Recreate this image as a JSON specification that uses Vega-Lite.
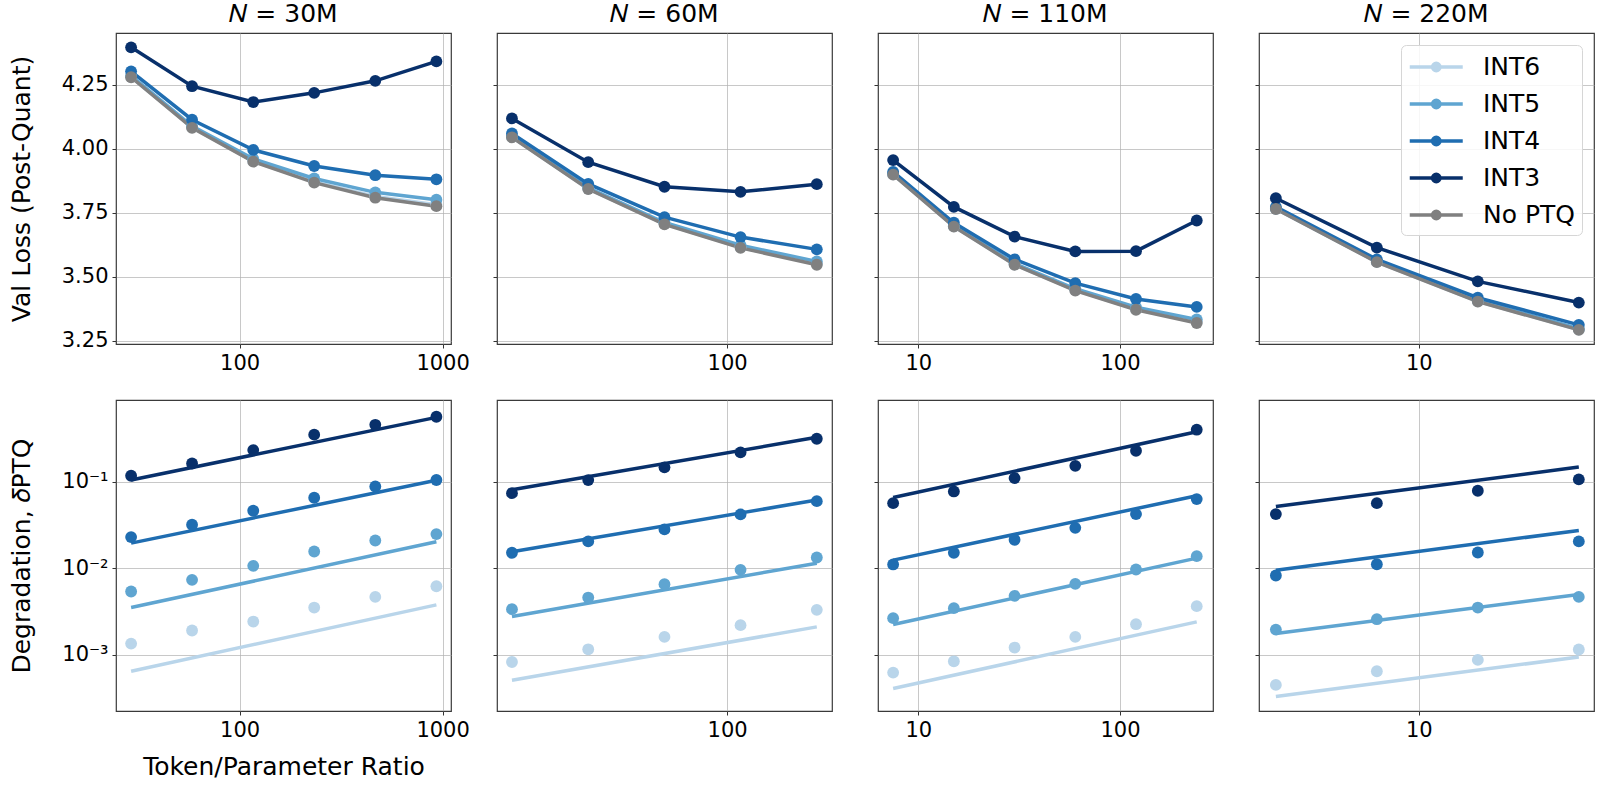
{
  "$schema": "https://vega.github.io/schema/vega-lite/v6.json",
  "padding": {"left": 8, "top": 1, "right": 5, "bottom": 5},
  "background": "white",
  "config": {
    "font": "DejaVu Sans",
    "view": {"stroke": "#3a3a3a", "strokeWidth": 1.2},
    "axis": {
      "labelFontSize": 21, "titleFontSize": 25, "titleFontWeight": "normal",
      "labelColor": "#000", "titleColor": "#000",
      "gridColor": "#b0b0b0", "gridOpacity": 0.7, "gridWidth": 1,
      "domain": false, "tickColor": "#333", "tickSize": 4, "labelPadding": 4
    },
    "title": {"fontSize": 25, "fontWeight": "normal", "color": "#000", "offset": 6},
    "legend": {
      "labelFontSize": 25, "labelColor": "#000", "padding": 7,
      "strokeColor": "#d6d6d6", "fillColor": "rgba(255,255,255,0.85)", "cornerRadius": 5
    }
  },
  "datasets": {
    "loss": [
      {"N": "30M", "method": "INT6", "ratio": 29.2, "loss": 4.281},
      {"N": "30M", "method": "INT6", "ratio": 58.3, "loss": 4.084},
      {"N": "30M", "method": "INT6", "ratio": 116.7, "loss": 3.952},
      {"N": "30M", "method": "INT6", "ratio": 233, "loss": 3.871},
      {"N": "30M", "method": "INT6", "ratio": 466, "loss": 3.814},
      {"N": "30M", "method": "INT6", "ratio": 932, "loss": 3.782},
      {"N": "30M", "method": "INT5", "ratio": 29.2, "loss": 4.285},
      {"N": "30M", "method": "INT5", "ratio": 58.3, "loss": 4.089},
      {"N": "30M", "method": "INT5", "ratio": 116.7, "loss": 3.961},
      {"N": "30M", "method": "INT5", "ratio": 233, "loss": 3.884},
      {"N": "30M", "method": "INT5", "ratio": 466, "loss": 3.830},
      {"N": "30M", "method": "INT5", "ratio": 932, "loss": 3.801},
      {"N": "30M", "method": "INT4", "ratio": 29.2, "loss": 4.303},
      {"N": "30M", "method": "INT4", "ratio": 58.3, "loss": 4.114},
      {"N": "30M", "method": "INT4", "ratio": 116.7, "loss": 3.996},
      {"N": "30M", "method": "INT4", "ratio": 233, "loss": 3.933},
      {"N": "30M", "method": "INT4", "ratio": 466, "loss": 3.897},
      {"N": "30M", "method": "INT4", "ratio": 932, "loss": 3.881},
      {"N": "30M", "method": "INT3", "ratio": 29.2, "loss": 4.397},
      {"N": "30M", "method": "INT3", "ratio": 58.3, "loss": 4.245},
      {"N": "30M", "method": "INT3", "ratio": 116.7, "loss": 4.183},
      {"N": "30M", "method": "INT3", "ratio": 233, "loss": 4.219},
      {"N": "30M", "method": "INT3", "ratio": 466, "loss": 4.266},
      {"N": "30M", "method": "INT3", "ratio": 932, "loss": 4.342},
      {"N": "30M", "method": "No PTQ", "ratio": 29.2, "loss": 4.280},
      {"N": "30M", "method": "No PTQ", "ratio": 58.3, "loss": 4.082},
      {"N": "30M", "method": "No PTQ", "ratio": 116.7, "loss": 3.950},
      {"N": "30M", "method": "No PTQ", "ratio": 233, "loss": 3.868},
      {"N": "30M", "method": "No PTQ", "ratio": 466, "loss": 3.809},
      {"N": "30M", "method": "No PTQ", "ratio": 932, "loss": 3.776},

      {"N": "60M", "method": "INT6", "ratio": 14.15, "loss": 4.046},
      {"N": "60M", "method": "INT6", "ratio": 28.3, "loss": 3.844},
      {"N": "60M", "method": "INT6", "ratio": 56.6, "loss": 3.707},
      {"N": "60M", "method": "INT6", "ratio": 113, "loss": 3.615},
      {"N": "60M", "method": "INT6", "ratio": 226, "loss": 3.550},
      {"N": "60M", "method": "INT5", "ratio": 14.15, "loss": 4.048},
      {"N": "60M", "method": "INT5", "ratio": 28.3, "loss": 3.848},
      {"N": "60M", "method": "INT5", "ratio": 56.6, "loss": 3.712},
      {"N": "60M", "method": "INT5", "ratio": 113, "loss": 3.623},
      {"N": "60M", "method": "INT5", "ratio": 226, "loss": 3.560},
      {"N": "60M", "method": "INT4", "ratio": 14.15, "loss": 4.060},
      {"N": "60M", "method": "INT4", "ratio": 28.3, "loss": 3.863},
      {"N": "60M", "method": "INT4", "ratio": 56.6, "loss": 3.733},
      {"N": "60M", "method": "INT4", "ratio": 113, "loss": 3.655},
      {"N": "60M", "method": "INT4", "ratio": 226, "loss": 3.607},
      {"N": "60M", "method": "INT3", "ratio": 14.15, "loss": 4.119},
      {"N": "60M", "method": "INT3", "ratio": 28.3, "loss": 3.948},
      {"N": "60M", "method": "INT3", "ratio": 56.6, "loss": 3.852},
      {"N": "60M", "method": "INT3", "ratio": 113, "loss": 3.832},
      {"N": "60M", "method": "INT3", "ratio": 226, "loss": 3.862},
      {"N": "60M", "method": "No PTQ", "ratio": 14.15, "loss": 4.045},
      {"N": "60M", "method": "No PTQ", "ratio": 28.3, "loss": 3.843},
      {"N": "60M", "method": "No PTQ", "ratio": 56.6, "loss": 3.705},
      {"N": "60M", "method": "No PTQ", "ratio": 113, "loss": 3.613},
      {"N": "60M", "method": "No PTQ", "ratio": 226, "loss": 3.547},

      {"N": "110M", "method": "INT6", "ratio": 7.5, "loss": 3.900},
      {"N": "110M", "method": "INT6", "ratio": 15, "loss": 3.697},
      {"N": "110M", "method": "INT6", "ratio": 30, "loss": 3.548},
      {"N": "110M", "method": "INT6", "ratio": 60, "loss": 3.448},
      {"N": "110M", "method": "INT6", "ratio": 120, "loss": 3.373},
      {"N": "110M", "method": "INT6", "ratio": 240, "loss": 3.323},
      {"N": "110M", "method": "INT5", "ratio": 7.5, "loss": 3.902},
      {"N": "110M", "method": "INT5", "ratio": 15, "loss": 3.699},
      {"N": "110M", "method": "INT5", "ratio": 30, "loss": 3.552},
      {"N": "110M", "method": "INT5", "ratio": 60, "loss": 3.453},
      {"N": "110M", "method": "INT5", "ratio": 120, "loss": 3.381},
      {"N": "110M", "method": "INT5", "ratio": 240, "loss": 3.333},
      {"N": "110M", "method": "INT4", "ratio": 7.5, "loss": 3.910},
      {"N": "110M", "method": "INT4", "ratio": 15, "loss": 3.711},
      {"N": "110M", "method": "INT4", "ratio": 30, "loss": 3.568},
      {"N": "110M", "method": "INT4", "ratio": 60, "loss": 3.475},
      {"N": "110M", "method": "INT4", "ratio": 120, "loss": 3.413},
      {"N": "110M", "method": "INT4", "ratio": 240, "loss": 3.382},
      {"N": "110M", "method": "INT3", "ratio": 7.5, "loss": 3.956},
      {"N": "110M", "method": "INT3", "ratio": 15, "loss": 3.773},
      {"N": "110M", "method": "INT3", "ratio": 30, "loss": 3.657},
      {"N": "110M", "method": "INT3", "ratio": 60, "loss": 3.599},
      {"N": "110M", "method": "INT3", "ratio": 120, "loss": 3.600},
      {"N": "110M", "method": "INT3", "ratio": 240, "loss": 3.720},
      {"N": "110M", "method": "No PTQ", "ratio": 7.5, "loss": 3.899},
      {"N": "110M", "method": "No PTQ", "ratio": 15, "loss": 3.696},
      {"N": "110M", "method": "No PTQ", "ratio": 30, "loss": 3.547},
      {"N": "110M", "method": "No PTQ", "ratio": 60, "loss": 3.446},
      {"N": "110M", "method": "No PTQ", "ratio": 120, "loss": 3.371},
      {"N": "110M", "method": "No PTQ", "ratio": 240, "loss": 3.319},

      {"N": "220M", "method": "INT6", "ratio": 3.75, "loss": 3.765},
      {"N": "220M", "method": "INT6", "ratio": 7.5, "loss": 3.558},
      {"N": "220M", "method": "INT6", "ratio": 15, "loss": 3.404},
      {"N": "220M", "method": "INT6", "ratio": 30, "loss": 3.293},
      {"N": "220M", "method": "INT5", "ratio": 3.75, "loss": 3.767},
      {"N": "220M", "method": "INT5", "ratio": 7.5, "loss": 3.560},
      {"N": "220M", "method": "INT5", "ratio": 15, "loss": 3.407},
      {"N": "220M", "method": "INT5", "ratio": 30, "loss": 3.297},
      {"N": "220M", "method": "INT4", "ratio": 3.75, "loss": 3.773},
      {"N": "220M", "method": "INT4", "ratio": 7.5, "loss": 3.568},
      {"N": "220M", "method": "INT4", "ratio": 15, "loss": 3.418},
      {"N": "220M", "method": "INT4", "ratio": 30, "loss": 3.312},
      {"N": "220M", "method": "INT3", "ratio": 3.75, "loss": 3.807},
      {"N": "220M", "method": "INT3", "ratio": 7.5, "loss": 3.614},
      {"N": "220M", "method": "INT3", "ratio": 15, "loss": 3.482},
      {"N": "220M", "method": "INT3", "ratio": 30, "loss": 3.399},
      {"N": "220M", "method": "No PTQ", "ratio": 3.75, "loss": 3.765},
      {"N": "220M", "method": "No PTQ", "ratio": 7.5, "loss": 3.557},
      {"N": "220M", "method": "No PTQ", "ratio": 15, "loss": 3.403},
      {"N": "220M", "method": "No PTQ", "ratio": 30, "loss": 3.292}
    ],
    "deg": [
      {"N": "30M", "method": "INT6", "ratio": 29.2, "delta": 0.00134},
      {"N": "30M", "method": "INT6", "ratio": 58.3, "delta": 0.0019},
      {"N": "30M", "method": "INT6", "ratio": 116.7, "delta": 0.00241},
      {"N": "30M", "method": "INT6", "ratio": 233, "delta": 0.0035},
      {"N": "30M", "method": "INT6", "ratio": 466, "delta": 0.00465},
      {"N": "30M", "method": "INT6", "ratio": 932, "delta": 0.00618},
      {"N": "30M", "method": "INT5", "ratio": 29.2, "delta": 0.00537},
      {"N": "30M", "method": "INT5", "ratio": 58.3, "delta": 0.00733},
      {"N": "30M", "method": "INT5", "ratio": 116.7, "delta": 0.01064},
      {"N": "30M", "method": "INT5", "ratio": 233, "delta": 0.0156},
      {"N": "30M", "method": "INT5", "ratio": 466, "delta": 0.0209},
      {"N": "30M", "method": "INT5", "ratio": 932, "delta": 0.0248},
      {"N": "30M", "method": "INT4", "ratio": 29.2, "delta": 0.0229},
      {"N": "30M", "method": "INT4", "ratio": 58.3, "delta": 0.0318},
      {"N": "30M", "method": "INT4", "ratio": 116.7, "delta": 0.0462},
      {"N": "30M", "method": "INT4", "ratio": 233, "delta": 0.0653},
      {"N": "30M", "method": "INT4", "ratio": 466, "delta": 0.0883},
      {"N": "30M", "method": "INT4", "ratio": 932, "delta": 0.105},
      {"N": "30M", "method": "INT3", "ratio": 29.2, "delta": 0.1174},
      {"N": "30M", "method": "INT3", "ratio": 58.3, "delta": 0.163},
      {"N": "30M", "method": "INT3", "ratio": 116.7, "delta": 0.233},
      {"N": "30M", "method": "INT3", "ratio": 233, "delta": 0.351},
      {"N": "30M", "method": "INT3", "ratio": 466, "delta": 0.457},
      {"N": "30M", "method": "INT3", "ratio": 932, "delta": 0.566},

      {"N": "60M", "method": "INT6", "ratio": 14.15, "delta": 0.00082},
      {"N": "60M", "method": "INT6", "ratio": 28.3, "delta": 0.00115},
      {"N": "60M", "method": "INT6", "ratio": 56.6, "delta": 0.0016},
      {"N": "60M", "method": "INT6", "ratio": 113, "delta": 0.00219},
      {"N": "60M", "method": "INT6", "ratio": 226, "delta": 0.00329},
      {"N": "60M", "method": "INT5", "ratio": 14.15, "delta": 0.00335},
      {"N": "60M", "method": "INT5", "ratio": 28.3, "delta": 0.00457},
      {"N": "60M", "method": "INT5", "ratio": 56.6, "delta": 0.00653},
      {"N": "60M", "method": "INT5", "ratio": 113, "delta": 0.00956},
      {"N": "60M", "method": "INT5", "ratio": 226, "delta": 0.0133},
      {"N": "60M", "method": "INT4", "ratio": 14.15, "delta": 0.01507},
      {"N": "60M", "method": "INT4", "ratio": 28.3, "delta": 0.0204},
      {"N": "60M", "method": "INT4", "ratio": 56.6, "delta": 0.0281},
      {"N": "60M", "method": "INT4", "ratio": 113, "delta": 0.0419},
      {"N": "60M", "method": "INT4", "ratio": 226, "delta": 0.0597},
      {"N": "60M", "method": "INT3", "ratio": 14.15, "delta": 0.0739},
      {"N": "60M", "method": "INT3", "ratio": 28.3, "delta": 0.1047},
      {"N": "60M", "method": "INT3", "ratio": 56.6, "delta": 0.147},
      {"N": "60M", "method": "INT3", "ratio": 113, "delta": 0.219},
      {"N": "60M", "method": "INT3", "ratio": 226, "delta": 0.315},

      {"N": "110M", "method": "INT6", "ratio": 7.5, "delta": 0.000618},
      {"N": "110M", "method": "INT6", "ratio": 15, "delta": 0.000835},
      {"N": "110M", "method": "INT6", "ratio": 30, "delta": 0.001205},
      {"N": "110M", "method": "INT6", "ratio": 60, "delta": 0.0016},
      {"N": "110M", "method": "INT6", "ratio": 120, "delta": 0.002245},
      {"N": "110M", "method": "INT6", "ratio": 240, "delta": 0.00363},
      {"N": "110M", "method": "INT5", "ratio": 7.5, "delta": 0.002636},
      {"N": "110M", "method": "INT5", "ratio": 15, "delta": 0.003443},
      {"N": "110M", "method": "INT5", "ratio": 30, "delta": 0.00478},
      {"N": "110M", "method": "INT5", "ratio": 60, "delta": 0.00658},
      {"N": "110M", "method": "INT5", "ratio": 120, "delta": 0.00966},
      {"N": "110M", "method": "INT5", "ratio": 240, "delta": 0.01377},
      {"N": "110M", "method": "INT4", "ratio": 7.5, "delta": 0.01104},
      {"N": "110M", "method": "INT4", "ratio": 15, "delta": 0.01507},
      {"N": "110M", "method": "INT4", "ratio": 30, "delta": 0.0213},
      {"N": "110M", "method": "INT4", "ratio": 60, "delta": 0.0293},
      {"N": "110M", "method": "INT4", "ratio": 120, "delta": 0.0423},
      {"N": "110M", "method": "INT4", "ratio": 240, "delta": 0.0631},
      {"N": "110M", "method": "INT3", "ratio": 7.5, "delta": 0.0566},
      {"N": "110M", "method": "INT3", "ratio": 15, "delta": 0.0773},
      {"N": "110M", "method": "INT3", "ratio": 30, "delta": 0.1104},
      {"N": "110M", "method": "INT3", "ratio": 60, "delta": 0.153},
      {"N": "110M", "method": "INT3", "ratio": 120, "delta": 0.2285},
      {"N": "110M", "method": "INT3", "ratio": 240, "delta": 0.401},

      {"N": "220M", "method": "INT6", "ratio": 3.75, "delta": 0.000445},
      {"N": "220M", "method": "INT6", "ratio": 7.5, "delta": 0.000641},
      {"N": "220M", "method": "INT6", "ratio": 15, "delta": 0.000867},
      {"N": "220M", "method": "INT6", "ratio": 30, "delta": 0.001143},
      {"N": "220M", "method": "INT5", "ratio": 3.75, "delta": 0.001945},
      {"N": "220M", "method": "INT5", "ratio": 7.5, "delta": 0.002565},
      {"N": "220M", "method": "INT5", "ratio": 15, "delta": 0.0035},
      {"N": "220M", "method": "INT5", "ratio": 30, "delta": 0.00465},
      {"N": "220M", "method": "INT4", "ratio": 3.75, "delta": 0.00822},
      {"N": "220M", "method": "INT4", "ratio": 7.5, "delta": 0.01111},
      {"N": "220M", "method": "INT4", "ratio": 15, "delta": 0.0152},
      {"N": "220M", "method": "INT4", "ratio": 30, "delta": 0.0204},
      {"N": "220M", "method": "INT3", "ratio": 3.75, "delta": 0.0423},
      {"N": "220M", "method": "INT3", "ratio": 7.5, "delta": 0.0566},
      {"N": "220M", "method": "INT3", "ratio": 15, "delta": 0.0787},
      {"N": "220M", "method": "INT3", "ratio": 30, "delta": 0.1066}
    ],
    "fit": [
      {"N": "30M", "method": "INT6", "ratio": 29.2, "delta": 0.000641},
      {"N": "30M", "method": "INT6", "ratio": 932, "delta": 0.00376},
      {"N": "30M", "method": "INT5", "ratio": 29.2, "delta": 0.0035},
      {"N": "30M", "method": "INT5", "ratio": 932, "delta": 0.0202},
      {"N": "30M", "method": "INT4", "ratio": 29.2, "delta": 0.0195},
      {"N": "30M", "method": "INT4", "ratio": 932, "delta": 0.104},
      {"N": "30M", "method": "INT3", "ratio": 29.2, "delta": 0.105},
      {"N": "30M", "method": "INT3", "ratio": 932, "delta": 0.557},
      {"N": "60M", "method": "INT6", "ratio": 14.15, "delta": 0.000503},
      {"N": "60M", "method": "INT6", "ratio": 226, "delta": 0.00209},
      {"N": "60M", "method": "INT5", "ratio": 14.15, "delta": 0.00275},
      {"N": "60M", "method": "INT5", "ratio": 226, "delta": 0.01142},
      {"N": "60M", "method": "INT4", "ratio": 14.15, "delta": 0.01546},
      {"N": "60M", "method": "INT4", "ratio": 226, "delta": 0.0614},
      {"N": "60M", "method": "INT3", "ratio": 14.15, "delta": 0.0808},
      {"N": "60M", "method": "INT3", "ratio": 226, "delta": 0.327},
      {"N": "110M", "method": "INT6", "ratio": 7.5, "delta": 0.000404},
      {"N": "110M", "method": "INT6", "ratio": 240, "delta": 0.00239},
      {"N": "110M", "method": "INT5", "ratio": 7.5, "delta": 0.00223},
      {"N": "110M", "method": "INT5", "ratio": 240, "delta": 0.01306},
      {"N": "110M", "method": "INT4", "ratio": 7.5, "delta": 0.01239},
      {"N": "110M", "method": "INT4", "ratio": 240, "delta": 0.0689},
      {"N": "110M", "method": "INT3", "ratio": 7.5, "delta": 0.0659},
      {"N": "110M", "method": "INT3", "ratio": 240, "delta": 0.379},
      {"N": "220M", "method": "INT6", "ratio": 3.75, "delta": 0.000326},
      {"N": "220M", "method": "INT6", "ratio": 30, "delta": 0.000938},
      {"N": "220M", "method": "INT5", "ratio": 3.75, "delta": 0.00175},
      {"N": "220M", "method": "INT5", "ratio": 30, "delta": 0.00495},
      {"N": "220M", "method": "INT4", "ratio": 3.75, "delta": 0.00948},
      {"N": "220M", "method": "INT4", "ratio": 30, "delta": 0.02735},
      {"N": "220M", "method": "INT3", "ratio": 3.75, "delta": 0.0519},
      {"N": "220M", "method": "INT3", "ratio": 30, "delta": 0.148}
    ]
  },
  "columns": 4,
  "bounds": "flush",
  "spacing": {"row": 56, "column": 46},
  "resolve": {"legend": {"color": "independent"}},
  "concat": [
    {
      "width": 335, "height": 311,
      "title": "𝑁 = 30M",
      "data": {"name": "loss"},
      "transform": [{"filter": "datum.N === '30M'"}],
      "encoding": {
        "x": {"field": "ratio", "type": "quantitative", "scale": {"type": "log", "domain": [24.6, 1100], "nice": false}, "axis": {"values": [100, 1000], "format": "d", "title": null}},
        "y": {"field": "loss", "type": "quantitative", "scale": {"domain": [3.237, 4.453], "nice": false, "zero": false}, "axis": {"values": [3.25, 3.5, 3.75, 4, 4.25], "format": ".2f", "title": "Val Loss (Post-Quant)", "titlePadding": 27}},
        "color": {"field": "method", "type": "nominal", "scale": {"domain": ["INT6", "INT5", "INT4", "INT3", "No PTQ"], "range": ["#b9d5ea", "#5fa5d1", "#1f6db1", "#08306b", "#808080"]}, "legend": null}
      },
      "layer": [
        {"mark": {"type": "line", "strokeWidth": 3.5}, "encoding": {}},
        {"mark": {"type": "point", "filled": true, "size": 140, "opacity": 1}, "encoding": {}}
      ]
    },
    {
      "width": 335, "height": 311,
      "title": "𝑁 = 60M",
      "data": {"name": "loss"},
      "transform": [{"filter": "datum.N === '60M'"}],
      "encoding": {
        "x": {"field": "ratio", "type": "quantitative", "scale": {"type": "log", "domain": [12.35, 259.5], "nice": false}, "axis": {"values": [100], "format": "d", "title": null}},
        "y": {"field": "loss", "type": "quantitative", "scale": {"domain": [3.237, 4.453], "nice": false, "zero": false}, "axis": {"values": [3.25, 3.5, 3.75, 4, 4.25], "labels": false, "title": null}},
        "color": {"field": "method", "type": "nominal", "legend": null}
      },
      "layer": [
        {"mark": {"type": "line", "strokeWidth": 3.5}, "encoding": {}},
        {"mark": {"type": "point", "filled": true, "size": 140, "opacity": 1}, "encoding": {}}
      ]
    },
    {
      "width": 335, "height": 311,
      "title": "𝑁 = 110M",
      "data": {"name": "loss"},
      "transform": [{"filter": "datum.N === '110M'"}],
      "encoding": {
        "x": {"field": "ratio", "type": "quantitative", "scale": {"type": "log", "domain": [6.31, 289], "nice": false}, "axis": {"values": [10, 100], "format": "d", "title": null}},
        "y": {"field": "loss", "type": "quantitative", "scale": {"domain": [3.237, 4.453], "nice": false, "zero": false}, "axis": {"values": [3.25, 3.5, 3.75, 4, 4.25], "labels": false, "title": null}},
        "color": {"field": "method", "type": "nominal", "legend": null}
      },
      "layer": [
        {"mark": {"type": "line", "strokeWidth": 3.5}, "encoding": {}},
        {"mark": {"type": "point", "filled": true, "size": 140, "opacity": 1}, "encoding": {}}
      ]
    },
    {
      "width": 335, "height": 311,
      "title": "𝑁 = 220M",
      "data": {"name": "loss"},
      "transform": [{"filter": "datum.N === '220M'"}],
      "encoding": {
        "x": {"field": "ratio", "type": "quantitative", "scale": {"type": "log", "domain": [3.34, 33.3], "nice": false}, "axis": {"values": [10], "format": "d", "title": null}},
        "y": {"field": "loss", "type": "quantitative", "scale": {"domain": [3.237, 4.453], "nice": false, "zero": false}, "axis": {"values": [3.25, 3.5, 3.75, 4, 4.25], "labels": false, "title": null}},
        "color": {
          "field": "method", "type": "nominal",
          "legend": {
            "title": null, "orient": "top-right", "offset": 12,
            "symbolType": "M-1,0L3,0M0.72,0A0.28,0.28,0,1,1,1.28,0A0.28,0.28,0,1,1,0.72,0Z",
            "symbolSize": 702, "symbolStrokeWidth": 3.5, "labelOffset": 45, "rowPadding": 9,
            "encode": {"symbols": {"update": {"fill": {"scale": "color", "field": "value"}, "stroke": {"scale": "color", "field": "value"}, "strokeWidth": {"value": 3.5}, "opacity": {"value": 1}}}}
          }
        }
      },
      "layer": [
        {"mark": {"type": "line", "strokeWidth": 3.5}, "encoding": {}},
        {"mark": {"type": "point", "filled": true, "size": 140, "opacity": 1}, "encoding": {}}
      ]
    },
    {
      "width": 335, "height": 311,
      "encoding": {
        "x": {"field": "ratio", "type": "quantitative", "scale": {"type": "log", "domain": [24.6, 1100], "nice": false}, "axis": {"values": [100, 1000], "format": "d", "title": "Token/Parameter Ratio", "titlePadding": 14}},
        "y": {"field": "delta", "type": "quantitative", "scale": {"type": "log", "domain": [0.000222, 0.885], "nice": false}, "axis": {"values": [0.001, 0.01, 0.1], "labelExpr": "datum.value < 0.005 ? '10⁻³' : datum.value < 0.05 ? '10⁻²' : '10⁻¹'", "title": "Degradation, 𝛿PTQ", "titlePadding": 27}},
        "color": {"field": "method", "type": "nominal", "legend": null}
      },
      "layer": [
        {"data": {"name": "fit"}, "transform": [{"filter": "datum.N === '30M'"}], "mark": {"type": "line", "strokeWidth": 3.5}, "encoding": {}},
        {"data": {"name": "deg"}, "transform": [{"filter": "datum.N === '30M'"}], "mark": {"type": "point", "filled": true, "size": 140, "opacity": 1}, "encoding": {}}
      ]
    },
    {
      "width": 335, "height": 311,
      "encoding": {
        "x": {"field": "ratio", "type": "quantitative", "scale": {"type": "log", "domain": [12.35, 259.5], "nice": false}, "axis": {"values": [100], "format": "d", "title": null}},
        "y": {"field": "delta", "type": "quantitative", "scale": {"type": "log", "domain": [0.000222, 0.885], "nice": false}, "axis": {"values": [0.001, 0.01, 0.1], "labels": false, "title": null}},
        "color": {"field": "method", "type": "nominal", "legend": null}
      },
      "layer": [
        {"data": {"name": "fit"}, "transform": [{"filter": "datum.N === '60M'"}], "mark": {"type": "line", "strokeWidth": 3.5}, "encoding": {}},
        {"data": {"name": "deg"}, "transform": [{"filter": "datum.N === '60M'"}], "mark": {"type": "point", "filled": true, "size": 140, "opacity": 1}, "encoding": {}}
      ]
    },
    {
      "width": 335, "height": 311,
      "encoding": {
        "x": {"field": "ratio", "type": "quantitative", "scale": {"type": "log", "domain": [6.31, 289], "nice": false}, "axis": {"values": [10, 100], "format": "d", "title": null}},
        "y": {"field": "delta", "type": "quantitative", "scale": {"type": "log", "domain": [0.000222, 0.885], "nice": false}, "axis": {"values": [0.001, 0.01, 0.1], "labels": false, "title": null}},
        "color": {"field": "method", "type": "nominal", "legend": null}
      },
      "layer": [
        {"data": {"name": "fit"}, "transform": [{"filter": "datum.N === '110M'"}], "mark": {"type": "line", "strokeWidth": 3.5}, "encoding": {}},
        {"data": {"name": "deg"}, "transform": [{"filter": "datum.N === '110M'"}], "mark": {"type": "point", "filled": true, "size": 140, "opacity": 1}, "encoding": {}}
      ]
    },
    {
      "width": 335, "height": 311,
      "encoding": {
        "x": {"field": "ratio", "type": "quantitative", "scale": {"type": "log", "domain": [3.34, 33.3], "nice": false}, "axis": {"values": [10], "format": "d", "title": null}},
        "y": {"field": "delta", "type": "quantitative", "scale": {"type": "log", "domain": [0.000222, 0.885], "nice": false}, "axis": {"values": [0.001, 0.01, 0.1], "labels": false, "title": null}},
        "color": {"field": "method", "type": "nominal", "legend": null}
      },
      "layer": [
        {"data": {"name": "fit"}, "transform": [{"filter": "datum.N === '220M'"}], "mark": {"type": "line", "strokeWidth": 3.5}, "encoding": {}},
        {"data": {"name": "deg"}, "transform": [{"filter": "datum.N === '220M'"}], "mark": {"type": "point", "filled": true, "size": 140, "opacity": 1}, "encoding": {}}
      ]
    }
  ]
}
